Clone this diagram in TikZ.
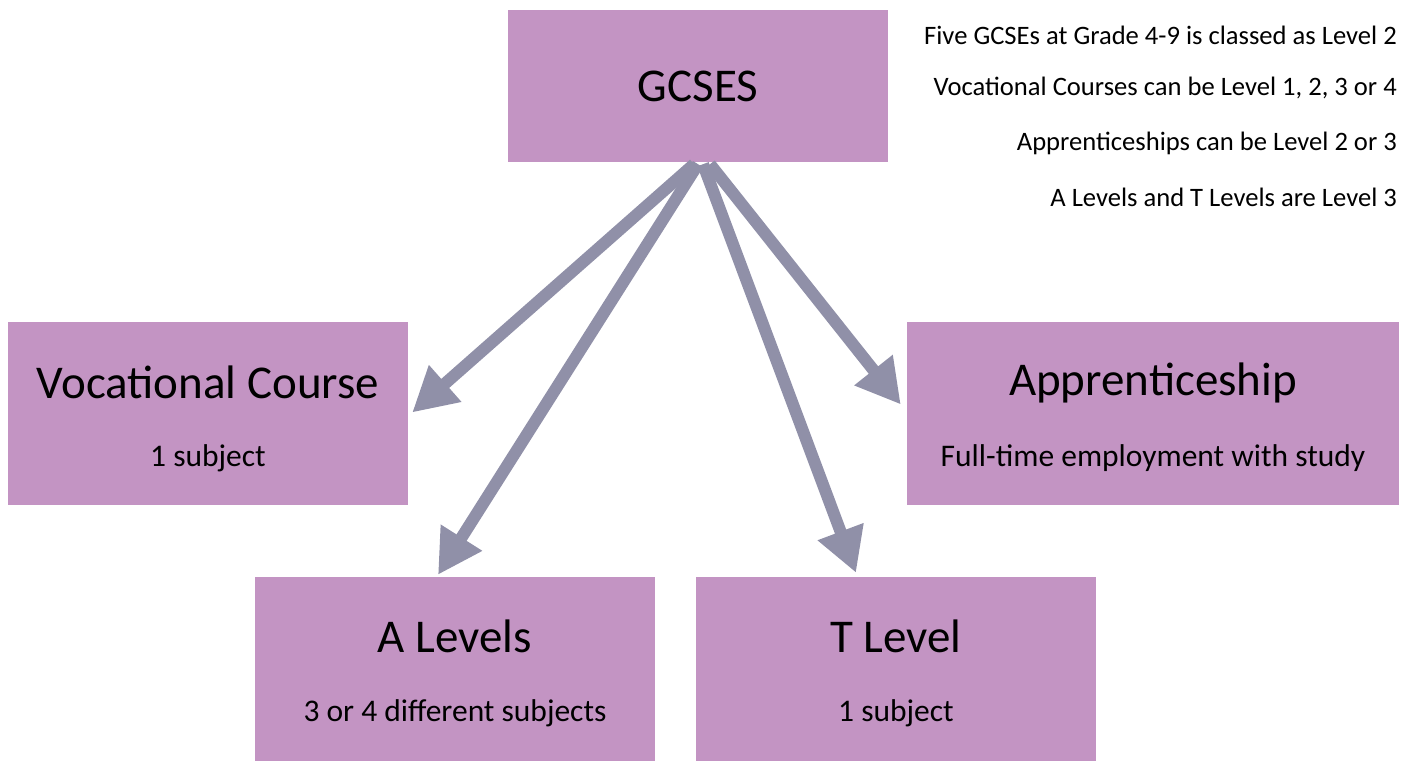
\documentclass[tikz,border=0pt]{standalone}
\usepackage{fontspec}
\setmainfont{Carlito}
\usetikzlibrary{arrows.meta,positioning}
\definecolor{boxpink}{HTML}{C394C3}
\definecolor{arrowgrey}{HTML}{9090A8}
\tikzset{
    %Define style for boxes
    level/.style={
           rectangle,
           fill=boxpink,
           draw=none,
           inner sep=0pt},
    %Define style for the texts in the boxes
    title/.style={
           font=\fontsize{47}{56}\selectfont,
           inner sep=0pt},
    sub/.style={
           font=\fontsize{31.5}{38}\selectfont,
           inner sep=0pt},
    note/.style={
           font=\fontsize{26.6}{32}\selectfont,
           anchor=east,
           inner sep=0pt},
    % Define arrow style
    route/.style={
           -{Triangle[length=44pt,width=46pt]},
           line width=12pt,
           draw=arrowgrey}
}
\begin{document}
\begin{tikzpicture}[x=1pt,y=1pt]
  \useasboundingbox (0,0) rectangle (1407,-761);
  % boxes
  \node[level,minimum width=380pt,minimum height=152pt] (gcse) at (698,-86) {};
  \node[level,minimum width=400pt,minimum height=183pt] (voc) at (208,-413.5) {};
  \node[level,minimum width=492pt,minimum height=183pt] (appr) at (1153,-413.5) {};
  \node[level,minimum width=400pt,minimum height=184pt] (alev) at (455,-669) {};
  \node[level,minimum width=400pt,minimum height=184pt] (tlev) at (896,-669) {};
  % texts
  \node[title] (gcset) at (gcse) {GCSES};
  \node[title] (voct) at ([yshift=-61pt]voc.north) {Vocational Course};
  \node[sub] (vocs) at ([yshift=-136pt]voc.north) {1 subject};
  \node[title] (apprt) at ([yshift=-61pt]appr.north) {Apprenticeship};
  \node[sub] (apprs) at ([yshift=-136pt]appr.north) {Full-time employment with study};
  \node[title] (alevt) at ([yshift=-60pt]alev.north) {A Levels};
  \node[sub] (alevs) at ([yshift=-136pt]alev.north) {3 or 4 different subjects};
  \node[title] (tlevt) at ([yshift=-60pt]tlev.north) {T Level};
  \node[sub] (tlevs) at ([yshift=-136pt]tlev.north) {1 subject};
  % notes
  \node[note] (n1) at (1397,-35) {Five GCSEs at Grade 4-9 is classed as Level 2};
  \node[note] (n2) at (1397,-88) {Vocational Courses can be Level 1, 2, 3 or 4};
  \node[note] (n3) at (1397,-143) {Apprenticeships can be Level 2 or 3};
  \node[note] (n4) at (1397,-197) {A Levels and T Levels are Level 3};
  % arrows
  \draw[route] ([xshift=-4pt,yshift=-2pt]gcse.south) -- ([xshift=4pt,yshift=1pt]voc.east);
  \draw[route] ([xshift=0pt,yshift=-2pt]gcse.south) -- ([xshift=-17pt,yshift=2pt]alev.north);
  \draw[route] ([xshift=5pt,yshift=-2pt]gcse.south) -- ([xshift=-40pt,yshift=4pt]tlev.north);
  \draw[route] ([xshift=12pt,yshift=-2pt]gcse.south) -- ([xshift=-6pt,yshift=9pt]appr.west);
\end{tikzpicture}
\end{document}
